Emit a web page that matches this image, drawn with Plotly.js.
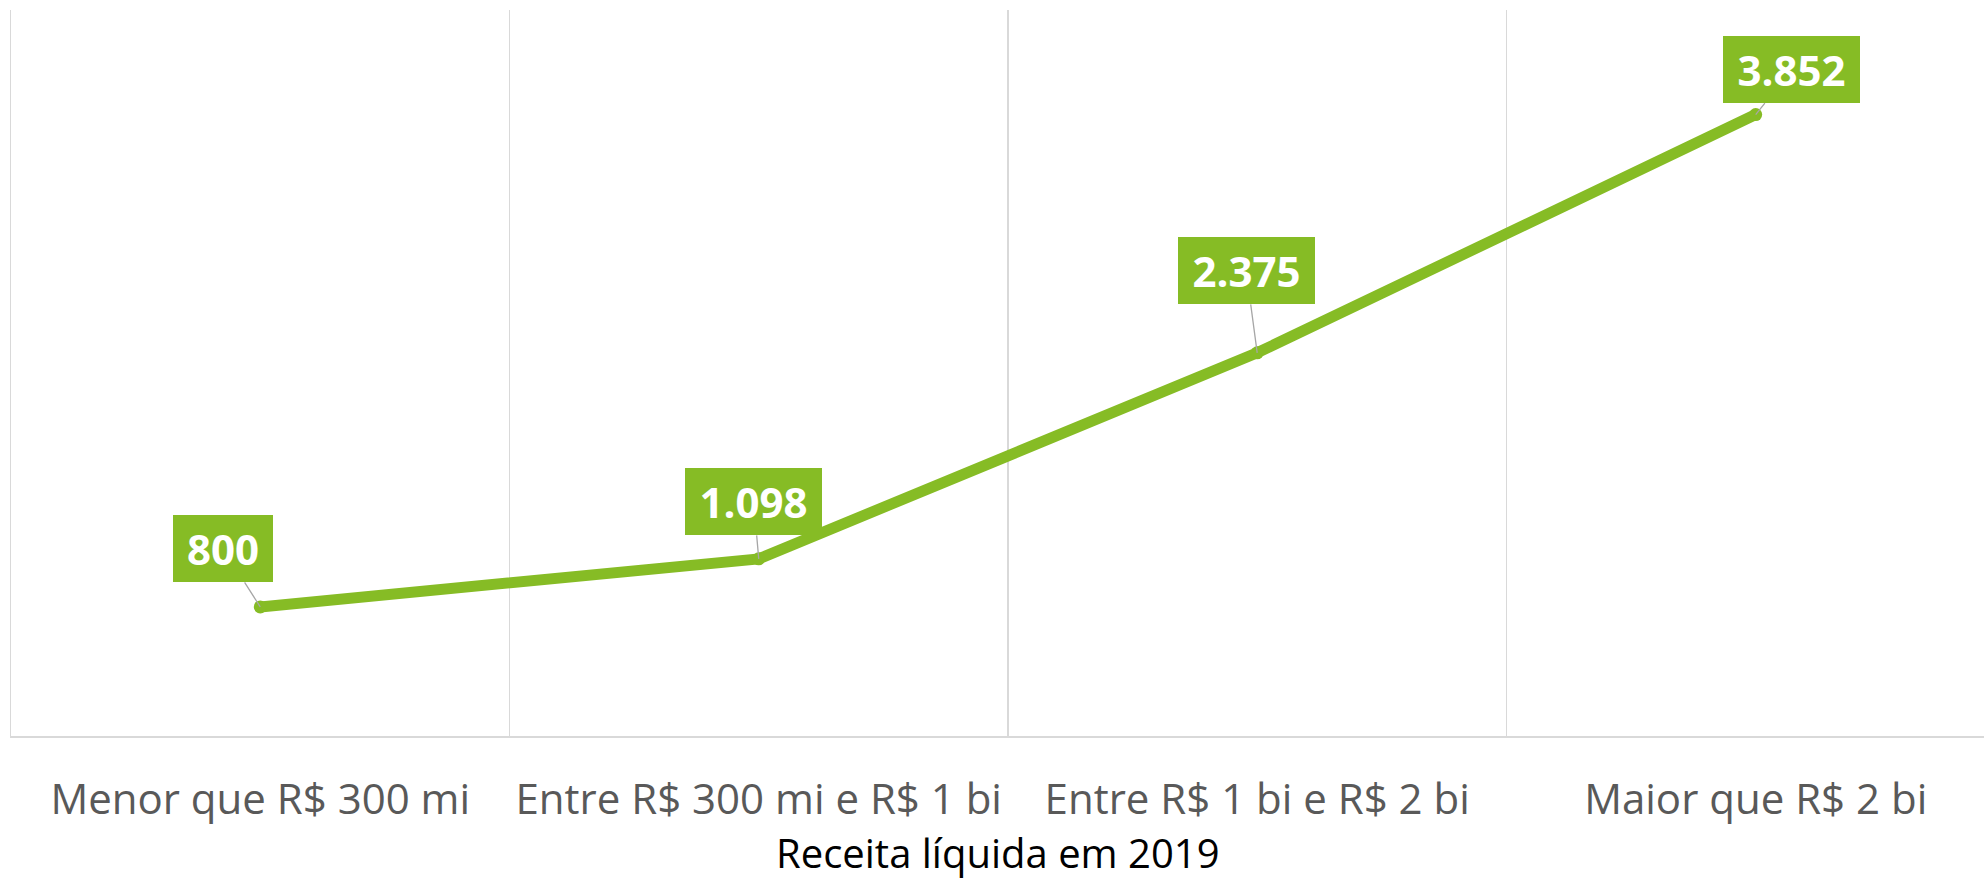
<!DOCTYPE html>
<html>
<head>
<meta charset="utf-8">
<script src="https://cdn.plot.ly/plotly-3.0.1.min.js"></script>
<style>
  html, body { margin: 0; padding: 0; background: #ffffff; }
  #chart { width: 1984px; height: 882px; }
</style>
</head>
<body>
<div id="chart"></div>
<script>
// ---- Data ----
const categories = [
  "Menor que R$ 300 mi",
  "Entre R$ 300 mi e R$ 1 bi",
  "Entre R$ 1 bi e R$ 2 bi",
  "Maior que R$ 2 bi"
];
const values = [800, 1098, 2375, 3852];
const xAxisTitle = "Receita líquida em 2019";

// ---- Styling ----
const green = "#86BC25";
const labelOffsets = [[-37, -58], [-5, -57], [-11, -82], [36, -45]];

function fmtPt(v) {
  return String(v).replace(/\B(?=(\d{3})+(?!\d))/g, ".");
}

const trace = {
  type: "scatter",
  mode: "lines+markers",
  x: categories,
  y: values,
  line: { color: green, width: 11 },
  marker: { color: green, size: 13 },
  hoverinfo: "skip"
};

const annotations = values.map((v, i) => {
  const t = fmtPt(v);
  return {
    x: categories[i],
    y: v,
    xref: "x",
    yref: "y",
    text: "<b>" + t + "</b>",
    font: { family: "Open Sans", size: 42, color: "#ffffff" },
    bgcolor: green,
    borderpad: 0,
    borderwidth: 0,
    width: t.length <= 3 ? 100 : 137,
    height: 67,
    align: "center",
    valign: "middle",
    showarrow: true,
    arrowhead: 0,
    arrowwidth: 1.3,
    arrowcolor: "#a6a6a6",
    standoff: 0,
    ax: labelOffsets[i][0],
    ay: labelOffsets[i][1]
  };
});

// x-axis title drawn as a paper-anchored annotation (below the tick labels)
annotations.push({
  xref: "paper",
  yref: "paper",
  x: 0.5,
  y: -0.161,
  xanchor: "center",
  yanchor: "middle",
  borderpad: 0,
  showarrow: false,
  text: xAxisTitle,
  font: { family: "Open Sans", size: 40, color: "#000000" }
});

const layout = {
  width: 1984,
  height: 882,
  margin: { l: 11, r: 0, t: 10, b: 146 },
  paper_bgcolor: "#ffffff",
  plot_bgcolor: "#ffffff",
  showlegend: false,
  font: { family: "Open Sans", color: "#595959" },
  xaxis: {
    type: "category",
    range: [-0.5, 3.458],
    tickson: "boundaries",
    showgrid: true,
    gridcolor: "#d9d9d9",
    gridwidth: 1.3,
    showline: true,
    linecolor: "#d9d9d9",
    linewidth: 1.5,
    ticks: "",
    ticklabelstandoff: 26,
    tickfont: { family: "Open Sans", size: 42, color: "#595959" },
    automargin: false,
    fixedrange: true
  },
  yaxis: {
    range: [0, 4500],
    showgrid: false,
    zeroline: false,
    showline: true,
    linecolor: "#d9d9d9",
    linewidth: 1.3,
    showticklabels: false,
    ticks: "",
    automargin: false,
    fixedrange: true
  },
  annotations: annotations
};

Plotly.newPlot("chart", [trace], layout, { displayModeBar: false, staticPlot: true });
</script>
</body>
</html>
